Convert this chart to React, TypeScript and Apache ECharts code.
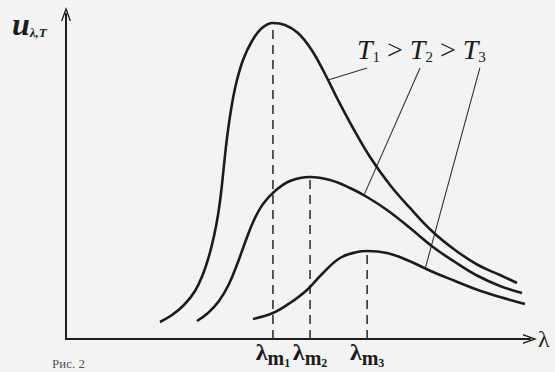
import React, { useEffect, useRef } from "react";
import * as echarts from "echarts";

// Spectral energy density curves u(λ,T) (λ, u) in relative units
const curveT1: [number, number][] = [
  [20.26, 5.23], [22.84, 7.38], [25.43, 10.46], [27.8, 14.77], [29.53, 20.0], [30.82, 25.54],
  [31.9, 31.69], [32.76, 38.15], [33.41, 44.92], [34.05, 53.54], [34.7, 61.85], [35.56, 70.46],
  [36.64, 78.46], [38.15, 85.85], [40.09, 91.69], [42.24, 95.69], [44.61, 97.23], [47.2, 96.62],
  [50.0, 94.15], [52.8, 89.23], [55.6, 82.15], [58.62, 73.54], [61.85, 64.92], [65.52, 56.0],
  [69.83, 47.38], [74.14, 40.31], [79.09, 32.92], [83.84, 27.38], [88.79, 22.77], [93.53, 19.69],
  [97.2, 17.23],
];
const curveT2: [number, number][] = [
  [28.23, 5.54], [30.6, 8.0], [32.97, 11.69], [35.13, 16.92], [37.07, 23.69], [38.79, 30.46],
  [40.52, 36.62], [42.46, 41.54], [45.04, 45.54], [48.28, 48.62], [52.59, 49.85], [56.9, 48.92],
  [61.21, 46.46], [64.87, 43.69], [69.18, 39.69], [74.14, 34.15], [79.09, 28.31], [83.84, 23.69],
  [88.79, 19.38], [93.53, 16.31], [98.28, 14.15],
];
const curveT3: [number, number][] = [
  [40.3, 6.15], [44.61, 8.0], [48.28, 11.08], [51.94, 15.08], [55.39, 20.31], [59.05, 24.92],
  [62.72, 26.77], [64.87, 27.08], [69.18, 26.46], [73.49, 24.31], [79.09, 20.62], [83.84, 17.85],
  [88.79, 15.08], [93.53, 12.92], [98.92, 10.77],
];

// Peak wavelengths λm1, λm2, λm3 and the heights of their dashed guides
const peakLambda = [44.6, 52.6, 64.9];
const peakTop = [96.0, 48.9, 26.5];
const peakIndex = ["1", "2", "3"];

// Leader lines from the label "T1 > T2 > T3" to each curve
const leaderLines: [number, number][][] = [
  [[64.9, 83.4], [56.3, 79.6]],
  [[76.3, 83.4], [64.2, 44.2]],
  [[89.2, 83.4], [77.4, 21.6]],
];

const INK = "#1c1c1c";
const SERIF = "'Liberation Serif', 'DejaVu Serif', serif";
const ARROW = "path://M0,14 L5,0 L10,14 L8.6,14 L5,4 L1.4,14 Z";

export default function App() {
  const ref = useRef<HTMLDivElement>(null);

  useEffect(() => {
    if (!ref.current) return;
    const chart = echarts.init(ref.current, null, { renderer: "svg" });

    const curves = [curveT1, curveT2, curveT3].map((d, i) => ({
      name: "T" + (i + 1),
      type: "line",
      data: d,
      smooth: 0.4,
      symbol: "none",
      lineStyle: { color: INK, width: 2.6 },
      z: 5,
    }));

    const dashes = peakLambda.map((x, i) => ({
      type: "line",
      data: [[x, 0], [x, peakTop[i]]],
      symbol: "none",
      lineStyle: { color: "#333", width: 1.6, type: [9, 6] },
      z: 3,
    }));

    const leaders = leaderLines.map((d) => ({
      type: "line",
      data: d,
      symbol: "none",
      lineStyle: { color: "#333", width: 1.1 },
      z: 4,
    }));

    chart.setOption({
      animation: false,
      backgroundColor: "#f3f3f3",
      grid: { left: 66, right: 25, top: 14, bottom: 33 },
      xAxis: {
        type: "value",
        min: 0,
        max: 100,
        name: "λ",
        nameLocation: "end",
        nameGap: 8,
        nameTextStyle: {
          color: INK,
          fontFamily: SERIF,
          fontSize: 24,
          padding: [22, 0, 0, 0],
        },
        axisLine: {
          show: true,
          symbol: ["none", ARROW],
          symbolSize: [10, 14],
          lineStyle: { color: INK, width: 2 },
        },
        axisTick: { show: false },
        splitLine: { show: false },
        axisLabel: {
          show: true,
          customValues: peakLambda,
          margin: 1,
          formatter: (v: number) => {
            const i = peakLambda.findIndex((p) => Math.abs(p - v) < 0.01);
            return `{l|λ}{m|m}{n|${peakIndex[i] ?? ""}}`;
          },
          rich: {
            l: { fontFamily: SERIF, fontSize: 24, fontWeight: "bold", color: INK, verticalAlign: "top" },
            m: { fontFamily: SERIF, fontSize: 20, fontWeight: "bold", color: INK, padding: [8, 0, 0, 0], verticalAlign: "top" },
            n: { fontFamily: SERIF, fontSize: 12, fontWeight: "bold", color: INK, padding: [17, 0, 0, 0], verticalAlign: "top" },
          },
        },
      },
      yAxis: {
        type: "value",
        min: 0,
        max: 100,
        axisLine: {
          show: true,
          symbol: ["none", ARROW],
          symbolSize: [10, 14],
          lineStyle: { color: INK, width: 2 },
        },
        axisTick: { show: false },
        splitLine: { show: false },
        axisLabel: { show: false },
      },
      graphic: [
        {
          type: "text",
          left: 12,
          top: 8,
          style: {
            text: "{u|u}{s|λ,T}",
            rich: {
              u: { fontFamily: SERIF, fontSize: 32, fontStyle: "italic", fontWeight: "bold", fill: INK, verticalAlign: "top" },
              s: { fontFamily: SERIF, fontSize: 13, fontStyle: "italic", fontWeight: "bold", fill: INK, padding: [18, 0, 0, 0], verticalAlign: "top" },
            },
          },
        },
        {
          type: "text",
          left: 357,
          top: 35,
          style: {
            text: "{t|T}{s|1}{g| > }{t|T}{s|2}{g| > }{t|T}{s|3}",
            rich: {
              t: { fontFamily: SERIF, fontSize: 28, fontStyle: "italic", fill: INK, verticalAlign: "top" },
              s: { fontFamily: SERIF, fontSize: 15, fill: INK, padding: [14, 0, 0, 0], verticalAlign: "top" },
              g: { fontFamily: SERIF, fontSize: 28, fill: INK, verticalAlign: "top" },
            },
          },
        },
        {
          type: "text",
          left: 52,
          top: 357,
          style: { text: "Рис. 2", fontFamily: SERIF, fontSize: 13, fill: "#555" },
        },
      ],
      series: [...dashes, ...leaders, ...curves],
    });

    return () => chart.dispose();
  }, []);

  return (
    <div
      ref={ref}
      style={{ position: "absolute", left: 0, top: 0, width: 555, height: 372 }}
    />
  );
}
